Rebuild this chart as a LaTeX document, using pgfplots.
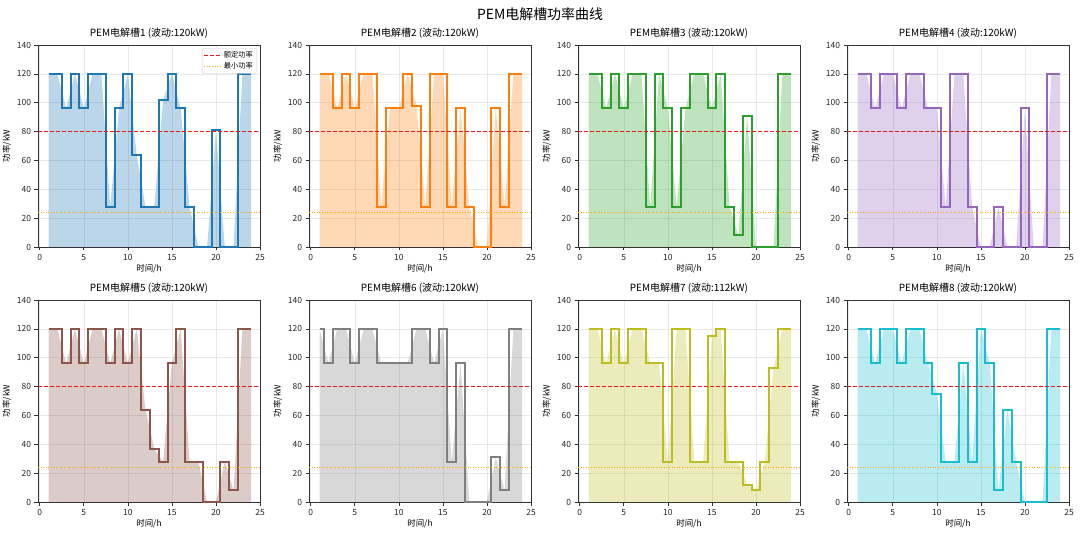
\documentclass[border=0pt]{standalone}
\usepackage{pgfplots}
\usepackage{pgfplotstable}
\pgfplotsset{compat=1.18}
\usepackage{fontspec}
\setmainfont{Noto Sans CJK SC}
\definecolor{c1}{HTML}{1F77B4}
\definecolor{c2}{HTML}{FF7F0E}
\definecolor{c3}{HTML}{2CA02C}
\definecolor{c4}{HTML}{9467BD}
\definecolor{c5}{HTML}{8C564B}
\definecolor{c6}{HTML}{7F7F7F}
\definecolor{c7}{HTML}{BCBD22}
\definecolor{c8}{HTML}{17BECF}
\definecolor{ratedred}{HTML}{E41A1C}
\definecolor{mplorange}{HTML}{FFA500}
\definecolor{spine}{HTML}{333333}

\pgfplotstableread{
h p1 p2 p3 p4 p5 p6 p7 p8
1 120 120 120 120 120 120 120 120
2 120 120 120 120 120 96 120 120
3 96 96 96 96 96 120 96 96
4 120 120 120 120 120 120 120 120
5 96 96 96 120 96 96 96 120
6 120 120 120 96 120 120 120 96
7 120 120 120 120 120 120 120 120
8 28 28 28 120 96 96 96 120
9 96 96 120 96 120 96 96 96
10 120 96 96 96 96 96 28 75
11 64 120 28 28 120 96 120 28
12 28 98 96 120 64 120 120 28
13 28 28 120 120 37 120 28 96
14 102 120 120 28 28 96 28 28
15 120 120 96 0 96 120 115 120
16 96 28 120 0 120 28 120 96
17 28 96 28 28 28 96 28 8
18 0 28 8 0 28 0 28 64
19 0 0 91 0 0 0 12 28
20 81 0 0 96 0 0 8 0
21 0 96 0 0 28 31 28 0
22 0 28 0 0 8 8 93 0
23 120 120 120 120 120 120 120 120
24 120 120 120 120 120 120 120 120
}\pemdata

\pgfplotsset{
  pemaxis/.style={
    scale only axis, width=222bp, height=202bp,
    xmin=-0.2, xmax=25, ymin=0, ymax=140,
    xtick={0,5,...,25}, ytick={0,20,...,140},
    tick pos=left, tick align=outside,
    major tick length=3.5bp,
    every tick/.style={spine, line width=0.7bp},
    axis line style={spine, line width=0.8bp},
    grid=major, major grid style={gray!18, line width=0.6bp},
    tick label style={font=\fontsize{8.5}{9}\selectfont, text=black!85},
    /pgf/number format/assume math mode=true,
    xlabel={时间/h}, ylabel={功率/kW},
    label style={font=\fontsize{8.5}{9}\selectfont},
    xlabel style={yshift=3bp},
    ylabel style={yshift=-1bp},
    title style={font=\fontsize{10}{11}\selectfont, yshift=-2.5bp},
    clip=false,
    anchor=south west,
  },
  stepline/.style={line width=2bp, const plot mark mid, line join=miter},
  ratedline/.style={ratedred, line width=1.2bp, dash pattern=on 4bp off 2bp},
  minline/.style={mplorange, line width=1.1bp, dash pattern=on 1bp off 1.6bp},
}

\newcommand{\pemplot}[5]{%
\begin{axis}[pemaxis, at={(#1bp,#2bp)}, title={#5}]
  \addplot[fill=#4, fill opacity=0.3, draw=none, forget plot] table[x=h, y=#3] {\pemdata} \closedcycle;
  \addplot[#4, stepline, forget plot] table[x=h, y=#3] {\pemdata};
  \addplot[ratedline, forget plot] coordinates {(-0.2,80) (25,80)};
  \addplot[minline, forget plot] coordinates {(-0.2,24) (25,24)};
\end{axis}}

\begin{document}
\begin{tikzpicture}
\useasboundingbox (0,0) rectangle (1080bp,535bp);
\node[font=\fontsize{14}{15}\selectfont] at (540bp,521bp) {PEM电解槽功率曲线};

\begin{axis}[pemaxis, at={(38bp,288bp)}, title={PEM电解槽1 (波动:120kW)},
  legend style={at={(0.985,0.985)}, anchor=north east, font=\fontsize{7.3}{8}\selectfont,
    draw=gray!40, rounded corners=2pt, fill=white,
    inner sep=1.5pt, row sep=-1pt},
  legend cell align=left]
  \addplot[fill=c1, fill opacity=0.3, draw=none, forget plot] table[x=h, y=p1] {\pemdata} \closedcycle;
  \addplot[c1, stepline, forget plot] table[x=h, y=p1] {\pemdata};
  \addplot[ratedline] coordinates {(-0.2,80) (25,80)};
  \addlegendentry{额定功率}
  \addplot[minline] coordinates {(-0.2,24) (25,24)};
  \addlegendentry{最小功率}
\end{axis}

\pemplot{309}{288}{p2}{c2}{PEM电解槽2 (波动:120kW)}
\pemplot{578}{288}{p3}{c3}{PEM电解槽3 (波动:120kW)}
\pemplot{847}{288}{p4}{c4}{PEM电解槽4 (波动:120kW)}
\pemplot{38}{33}{p5}{c5}{PEM电解槽5 (波动:120kW)}
\pemplot{309}{33}{p6}{c6}{PEM电解槽6 (波动:120kW)}
\pemplot{578}{33}{p7}{c7}{PEM电解槽7 (波动:112kW)}
\pemplot{847}{33}{p8}{c8}{PEM电解槽8 (波动:120kW)}
\end{tikzpicture}
\end{document}
